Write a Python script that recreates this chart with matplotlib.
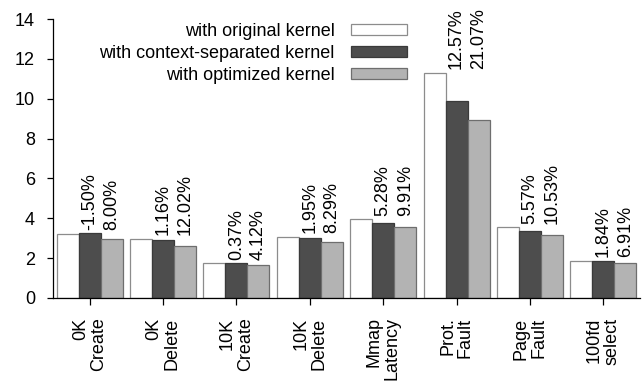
import numpy as np
import matplotlib
matplotlib.use("Agg")
import matplotlib.pyplot as plt

plt.rcParams['font.family'] = ['Liberation Sans', 'DejaVu Sans']

# benchmark names (two-line tick labels)
benchmarks = ["0K\nCreate", "0K\nDelete", "10K\nCreate", "10K\nDelete",
              "Mmap\nLatency", "Prot.\nFault", "Page\nFault", "100fd\nselect"]

# latency per benchmark for each kernel
original = [3.20, 2.96, 1.74, 3.06, 3.95, 11.30, 3.55, 1.87]
separated = [3.25, 2.93, 1.75, 3.00, 3.76, 9.88, 3.38, 1.85]
optimized = [2.95, 2.60, 1.67, 2.81, 3.56, 8.92, 3.17, 1.74]

# overhead labels printed over the dark and gray bars
sep_labels = ["-1.50%", "1.16%", "0.37%", "1.95%", "5.28%", "12.57%", "5.57%", "1.84%"]
opt_labels = ["8.00%", "12.02%", "4.12%", "8.29%", "9.91%", "21.07%", "10.53%", "6.91%"]

series = [
    ("with original kernel", original, "white", "#8c8c8c"),
    ("with context-separated kernel", separated, "#4d4d4d", "#3a3a3a"),
    ("with optimized kernel", optimized, "#b3b3b3", "#6e6e6e"),
]

fig = plt.figure(figsize=(6.44, 3.85), dpi=100)
ax = fig.add_axes([53 / 644, 1 - 298 / 385, 587 / 644, 279 / 385])

x = np.arange(len(benchmarks))
w = 0.3
for i, (name, vals, fc, ec) in enumerate(series):
    ax.bar(x + (i - 1) * w, vals, w, color=fc, edgecolor=ec, linewidth=0.9, label=name)

fs = 13
for i in range(len(benchmarks)):
    top = max(original[i], separated[i], optimized[i]) + 0.18
    ax.text(x[i], top, sep_labels[i], rotation=90, ha="center", va="bottom", fontsize=fs)
    ax.text(x[i] + w, top, opt_labels[i], rotation=90, ha="center", va="bottom", fontsize=fs)

ax.set_xlim(-0.5, 7.5)
ax.set_ylim(0, 14)
ax.set_yticks(range(0, 15, 2))
ax.set_xticks(x)
ax.set_xticklabels(benchmarks, rotation=90, fontsize=fs, linespacing=1.05,
                   multialignment="right")
ax.tick_params(axis="y", labelsize=fs, length=4, width=0.9, pad=9)
ax.tick_params(axis="x", length=5, width=0.9, pad=9)
for side in ["top", "right"]:
    ax.spines[side].set_visible(False)
for side in ["left", "bottom"]:
    ax.spines[side].set_linewidth(0.9)

ax.legend(loc="upper right", bbox_to_anchor=(407 / 644, 1 - 23 / 385),
          bbox_transform=fig.transFigure, frameon=False, markerfirst=False,
          fontsize=fs, handlelength=3.1, handleheight=0.6, handletextpad=0.9,
          labelspacing=0.28, borderpad=0, borderaxespad=0)

fig.savefig("out.png", dpi=100)
